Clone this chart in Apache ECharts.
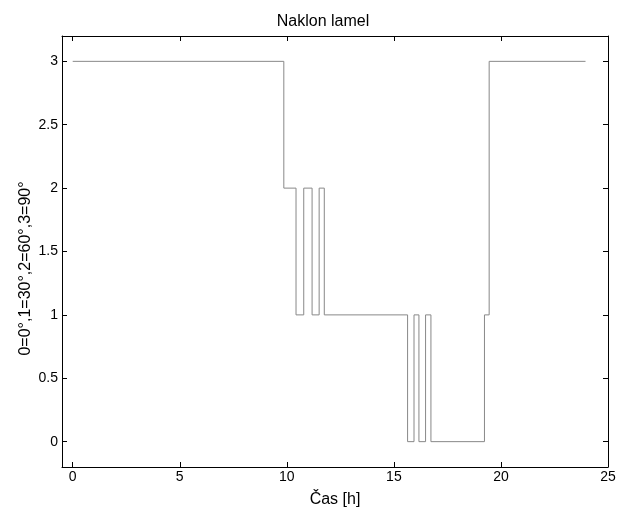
<!DOCTYPE html>
<html>
<head>
<meta charset="utf-8">
<script src="https://cdn.jsdelivr.net/npm/echarts@6/dist/echarts.min.js"></script>
<style>
html, body { margin:0; padding:0; background:#fff; }
#naklonChart { width:619px; height:508px; }
</style>
</head>
<body>
<div id="naklonChart"></div>
<script>
// cas prepnuti [h] a poloha lamel (0=0°,1=30°,2=60°,3=90°)
var casH = [0, 9.86, 10.43, 10.79, 11.18, 11.51, 11.75, 15.64, 15.94, 16.17, 16.48, 16.73, 19.23, 19.45, 23.95];
var naklon = [3, 2, 1, 2, 1, 2, 1, 0, 1, 0, 1, 0, 1, 3, 3];
var xTicks = [0, 5, 10, 15, 20, 25];
var yTicks = [0, 0.5, 1, 1.5, 2, 2.5, 3];

var fontName = 'Liberation Sans, Arial, sans-serif';

var data = new Array(casH.length);
for (var i = 0; i < casH.length; i++) {
	data[i] = [casH[i], naklon[i]];
}

function makeAxis(pos, min, max, ticks, showLabel) {
	return {
		type : 'value',
		position : pos,
		min : min,
		max : max,
		axisLine : { show : true, onZero : false, lineStyle : { color : '#000', width : 1 } },
		axisTick : { show : true, inside : true, length : 5, customValues : ticks, lineStyle : { color : '#000' } },
		axisLabel : { show : showLabel, customValues : ticks, color : '#000', fontSize : 14, fontFamily : fontName, margin : 4 },
		splitLine : { show : false }
	};
}

var xBottom = makeAxis('bottom', -0.5, 25, xTicks, true);
xBottom.name = 'Čas [h]';
xBottom.nameLocation = 'middle';
xBottom.nameGap = 25;
xBottom.nameMoveOverlap = false;
xBottom.nameTextStyle = { color : '#000', fontSize : 16, fontFamily : fontName };
xBottom.axisLabel.margin = 3;

var yLeft = makeAxis('left', -0.2, 3.2, yTicks, true);
yLeft.name = '0=0°,1=30°,2=60°,3=90°';
yLeft.nameLocation = 'middle';
yLeft.nameGap = 28;
yLeft.nameMoveOverlap = false;
// posun popisku dolu (jako v puvodnim grafu)
yLeft.nameTextStyle = { color : '#000', fontSize : 16, fontFamily : fontName, padding : [0, 34, 0, 0] };

var option = {
	backgroundColor : '#fff',
	animation : false,
	title : {
		text : 'Naklon lamel',
		left : 318,
		top : 9,
		textAlign : 'center',
		textStyle : { color : '#000', fontSize : 16, fontWeight : 'normal', fontFamily : fontName }
	},
	grid : { left : 62, right : 11, top : 36, bottom : 41, containLabel : false, outerBoundsMode : 'none' },
	xAxis : [ xBottom, makeAxis('top', -0.5, 25, xTicks, false) ],
	yAxis : [ yLeft, makeAxis('right', -0.2, 3.2, yTicks, false) ],
	series : [ {
		type : 'line',
		step : 'end',
		data : data,
		showSymbol : false,
		lineStyle : { color : '#888', width : 1 }
	} ]
};

var myChart = echarts.init(document.getElementById('naklonChart'));
myChart.setOption(option);
</script>
</body>
</html>
